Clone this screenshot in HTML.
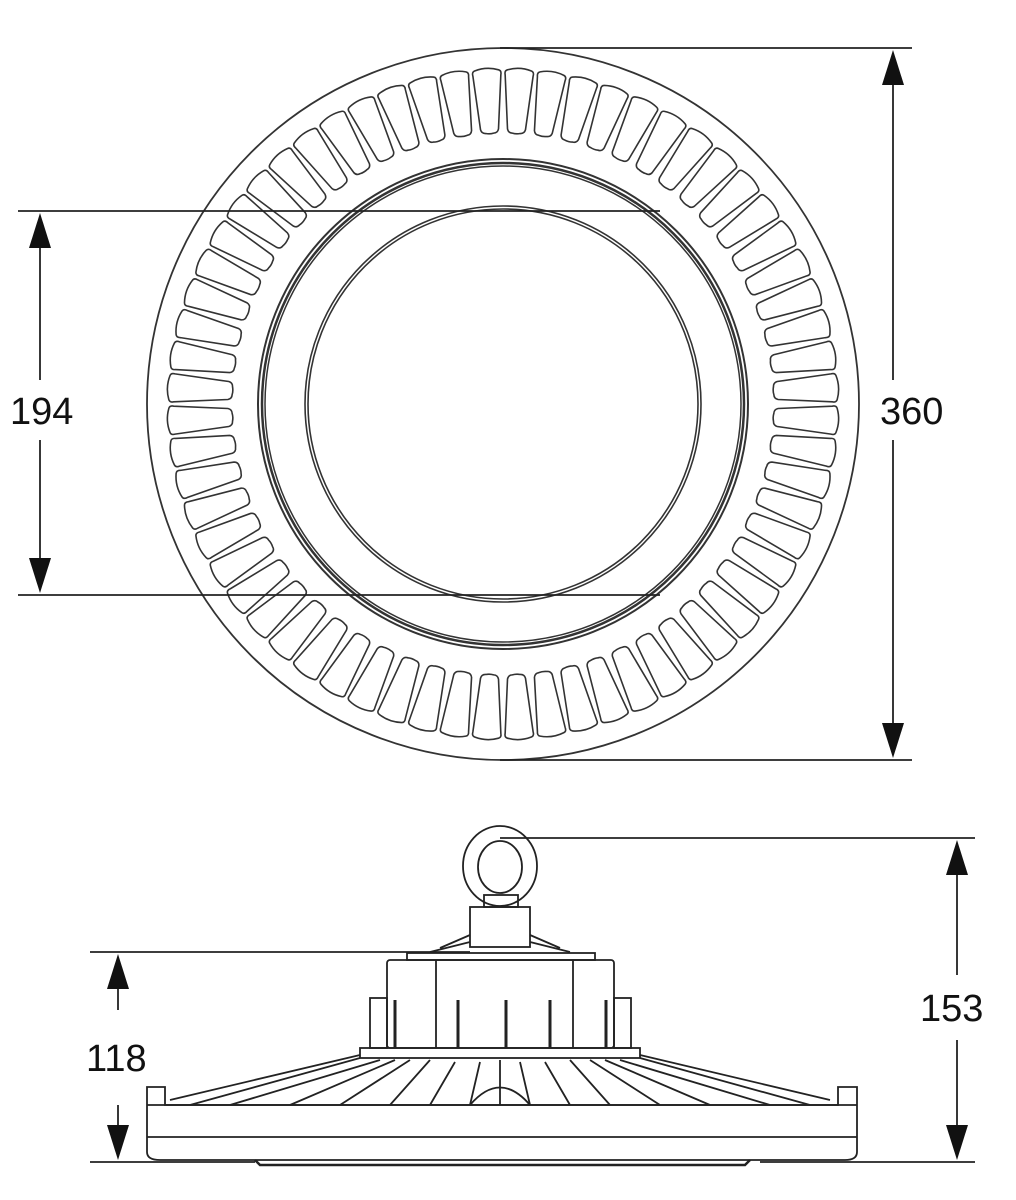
<!DOCTYPE html>
<html><head><meta charset="utf-8"><style>
html,body{margin:0;padding:0;background:#fff;}
svg{display:block}
text{font-family:"Liberation Sans",sans-serif;font-size:38px;fill:#111;}
</style></head><body>
<svg width="1016" height="1200" viewBox="0 0 1016 1200" xmlns="http://www.w3.org/2000/svg" xmlns:xlink="http://www.w3.org/1999/xlink">
<defs>
<path id="slot" d="M491,70 Q503,66 515,70 Q518,71 517,75 L512,129 Q511,133 507,133 Q503,134 499,133 Q495,133 494,129 L489,75 Q488,71 491,70 Z" fill="none" stroke="#333" stroke-width="1.6"/>
</defs>
<g fill="none" stroke="#333">
<circle cx="503" cy="404" r="356" stroke-width="1.8"/>
<circle cx="503" cy="404" r="245" stroke-width="2"/>
<circle cx="503" cy="404" r="241" stroke-width="2.5"/>
<circle cx="503" cy="404" r="238" stroke-width="1.5"/>
<circle cx="503" cy="404" r="198" stroke-width="1.6"/>
<circle cx="503" cy="404" r="195" stroke-width="1.6"/>
</g>
<g>
<use xlink:href="#slot" href="#slot" transform="rotate(2.8125 503 404)"/>
<use xlink:href="#slot" href="#slot" transform="rotate(8.4375 503 404)"/>
<use xlink:href="#slot" href="#slot" transform="rotate(14.0625 503 404)"/>
<use xlink:href="#slot" href="#slot" transform="rotate(19.6875 503 404)"/>
<use xlink:href="#slot" href="#slot" transform="rotate(25.3125 503 404)"/>
<use xlink:href="#slot" href="#slot" transform="rotate(30.9375 503 404)"/>
<use xlink:href="#slot" href="#slot" transform="rotate(36.5625 503 404)"/>
<use xlink:href="#slot" href="#slot" transform="rotate(42.1875 503 404)"/>
<use xlink:href="#slot" href="#slot" transform="rotate(47.8125 503 404)"/>
<use xlink:href="#slot" href="#slot" transform="rotate(53.4375 503 404)"/>
<use xlink:href="#slot" href="#slot" transform="rotate(59.0625 503 404)"/>
<use xlink:href="#slot" href="#slot" transform="rotate(64.6875 503 404)"/>
<use xlink:href="#slot" href="#slot" transform="rotate(70.3125 503 404)"/>
<use xlink:href="#slot" href="#slot" transform="rotate(75.9375 503 404)"/>
<use xlink:href="#slot" href="#slot" transform="rotate(81.5625 503 404)"/>
<use xlink:href="#slot" href="#slot" transform="rotate(87.1875 503 404)"/>
<use xlink:href="#slot" href="#slot" transform="rotate(92.8125 503 404)"/>
<use xlink:href="#slot" href="#slot" transform="rotate(98.4375 503 404)"/>
<use xlink:href="#slot" href="#slot" transform="rotate(104.0625 503 404)"/>
<use xlink:href="#slot" href="#slot" transform="rotate(109.6875 503 404)"/>
<use xlink:href="#slot" href="#slot" transform="rotate(115.3125 503 404)"/>
<use xlink:href="#slot" href="#slot" transform="rotate(120.9375 503 404)"/>
<use xlink:href="#slot" href="#slot" transform="rotate(126.5625 503 404)"/>
<use xlink:href="#slot" href="#slot" transform="rotate(132.1875 503 404)"/>
<use xlink:href="#slot" href="#slot" transform="rotate(137.8125 503 404)"/>
<use xlink:href="#slot" href="#slot" transform="rotate(143.4375 503 404)"/>
<use xlink:href="#slot" href="#slot" transform="rotate(149.0625 503 404)"/>
<use xlink:href="#slot" href="#slot" transform="rotate(154.6875 503 404)"/>
<use xlink:href="#slot" href="#slot" transform="rotate(160.3125 503 404)"/>
<use xlink:href="#slot" href="#slot" transform="rotate(165.9375 503 404)"/>
<use xlink:href="#slot" href="#slot" transform="rotate(171.5625 503 404)"/>
<use xlink:href="#slot" href="#slot" transform="rotate(177.1875 503 404)"/>
<use xlink:href="#slot" href="#slot" transform="rotate(182.8125 503 404)"/>
<use xlink:href="#slot" href="#slot" transform="rotate(188.4375 503 404)"/>
<use xlink:href="#slot" href="#slot" transform="rotate(194.0625 503 404)"/>
<use xlink:href="#slot" href="#slot" transform="rotate(199.6875 503 404)"/>
<use xlink:href="#slot" href="#slot" transform="rotate(205.3125 503 404)"/>
<use xlink:href="#slot" href="#slot" transform="rotate(210.9375 503 404)"/>
<use xlink:href="#slot" href="#slot" transform="rotate(216.5625 503 404)"/>
<use xlink:href="#slot" href="#slot" transform="rotate(222.1875 503 404)"/>
<use xlink:href="#slot" href="#slot" transform="rotate(227.8125 503 404)"/>
<use xlink:href="#slot" href="#slot" transform="rotate(233.4375 503 404)"/>
<use xlink:href="#slot" href="#slot" transform="rotate(239.0625 503 404)"/>
<use xlink:href="#slot" href="#slot" transform="rotate(244.6875 503 404)"/>
<use xlink:href="#slot" href="#slot" transform="rotate(250.3125 503 404)"/>
<use xlink:href="#slot" href="#slot" transform="rotate(255.9375 503 404)"/>
<use xlink:href="#slot" href="#slot" transform="rotate(261.5625 503 404)"/>
<use xlink:href="#slot" href="#slot" transform="rotate(267.1875 503 404)"/>
<use xlink:href="#slot" href="#slot" transform="rotate(272.8125 503 404)"/>
<use xlink:href="#slot" href="#slot" transform="rotate(278.4375 503 404)"/>
<use xlink:href="#slot" href="#slot" transform="rotate(284.0625 503 404)"/>
<use xlink:href="#slot" href="#slot" transform="rotate(289.6875 503 404)"/>
<use xlink:href="#slot" href="#slot" transform="rotate(295.3125 503 404)"/>
<use xlink:href="#slot" href="#slot" transform="rotate(300.9375 503 404)"/>
<use xlink:href="#slot" href="#slot" transform="rotate(306.5625 503 404)"/>
<use xlink:href="#slot" href="#slot" transform="rotate(312.1875 503 404)"/>
<use xlink:href="#slot" href="#slot" transform="rotate(317.8125 503 404)"/>
<use xlink:href="#slot" href="#slot" transform="rotate(323.4375 503 404)"/>
<use xlink:href="#slot" href="#slot" transform="rotate(329.0625 503 404)"/>
<use xlink:href="#slot" href="#slot" transform="rotate(334.6875 503 404)"/>
<use xlink:href="#slot" href="#slot" transform="rotate(340.3125 503 404)"/>
<use xlink:href="#slot" href="#slot" transform="rotate(345.9375 503 404)"/>
<use xlink:href="#slot" href="#slot" transform="rotate(351.5625 503 404)"/>
<use xlink:href="#slot" href="#slot" transform="rotate(357.1875 503 404)"/>
</g>
<g stroke="#222" stroke-width="1.8">
<line x1="500" y1="48" x2="912" y2="48"/>
<line x1="500" y1="760" x2="912" y2="760"/>
<line x1="893" y1="80" x2="893" y2="380"/>
<line x1="893" y1="440" x2="893" y2="728"/>
<line x1="18" y1="211" x2="660" y2="211"/>
<line x1="18" y1="595" x2="660" y2="595"/>
<line x1="40" y1="240" x2="40" y2="380"/>
<line x1="40" y1="440" x2="40" y2="566"/>
<line x1="500" y1="838" x2="975" y2="838"/>
<line x1="760" y1="1162" x2="975" y2="1162"/>
<line x1="957" y1="868" x2="957" y2="975"/>
<line x1="957" y1="1040" x2="957" y2="1132"/>
<line x1="90" y1="952" x2="470" y2="952"/>
<line x1="90" y1="1162" x2="255" y2="1162"/>
<line x1="118" y1="980" x2="118" y2="1010"/>
<line x1="118" y1="1105" x2="118" y2="1132"/>
</g>
<g fill="#111">
<polygon points="893,50 882,85 904,85"/>
<polygon points="893,758 882,723 904,723"/>
<polygon points="40,213 29,248 51,248"/>
<polygon points="40,593 29,558 51,558"/>
<polygon points="957,840 946,875 968,875"/>
<polygon points="957,1160 946,1125 968,1125"/>
<polygon points="118,954 107,989 129,989"/>
<polygon points="118,1160 107,1125 129,1125"/>
</g>
<text x="880" y="424">360</text>
<text x="10" y="424">194</text>
<text x="920" y="1021">153</text>
<text x="86" y="1071">118</text>
<g fill="none" stroke="#222" stroke-width="1.8">
<ellipse cx="500" cy="866" rx="37" ry="40"/>
<ellipse cx="500" cy="867" rx="22" ry="26"/>
<rect x="484" y="895" width="34" height="12"/>
<rect x="470" y="907" width="60" height="40"/>
<path d="M470,935 L440,948 M470,942 L430,952 M530,935 L560,948 M530,942 L570,952"/>
<rect x="407" y="953" width="188" height="7"/>
<rect x="387" y="960" width="227" height="88" rx="3"/>
<path d="M436,960 V1048 M573,960 V1048"/>
<rect x="370" y="998" width="17" height="50"/>
<rect x="614" y="998" width="17" height="50"/>
<path d="M395,1000 V1048 M458,1000 V1048 M506,1000 V1048 M550,1000 V1048 M606,1000 V1048" stroke-width="3"/>
<rect x="360" y="1048" width="280" height="10"/>
<path d="M147,1152 Q147,1160 160,1160 L845,1160 Q857,1160 857,1152 L857,1087 L838,1087 L838,1105 L165,1105 L165,1087 L147,1087 Z"/>
<path d="M147,1137 H857 M147,1105 H857"/>
<path d="M255,1160 L260,1165 L745,1165 L750,1160" stroke-width="2.5"/>
<path d="M360,1055 L170,1100 M360,1058 L190,1105 M380,1060 L230,1105 M395,1060 L290,1105 M410,1060 L340,1105 M430,1060 L390,1105 M455,1062 L430,1105 M480,1062 L470,1105 M640,1055 L830,1100 M640,1058 L810,1105 M620,1060 L770,1105 M605,1060 L710,1105 M590,1060 L660,1105 M570,1060 L610,1105 M545,1062 L570,1105 M520,1062 L530,1105 M500,1060 V1105"/>
<path d="M470,1105 Q500,1070 530,1105"/>
</g>
</svg>
</body></html>
